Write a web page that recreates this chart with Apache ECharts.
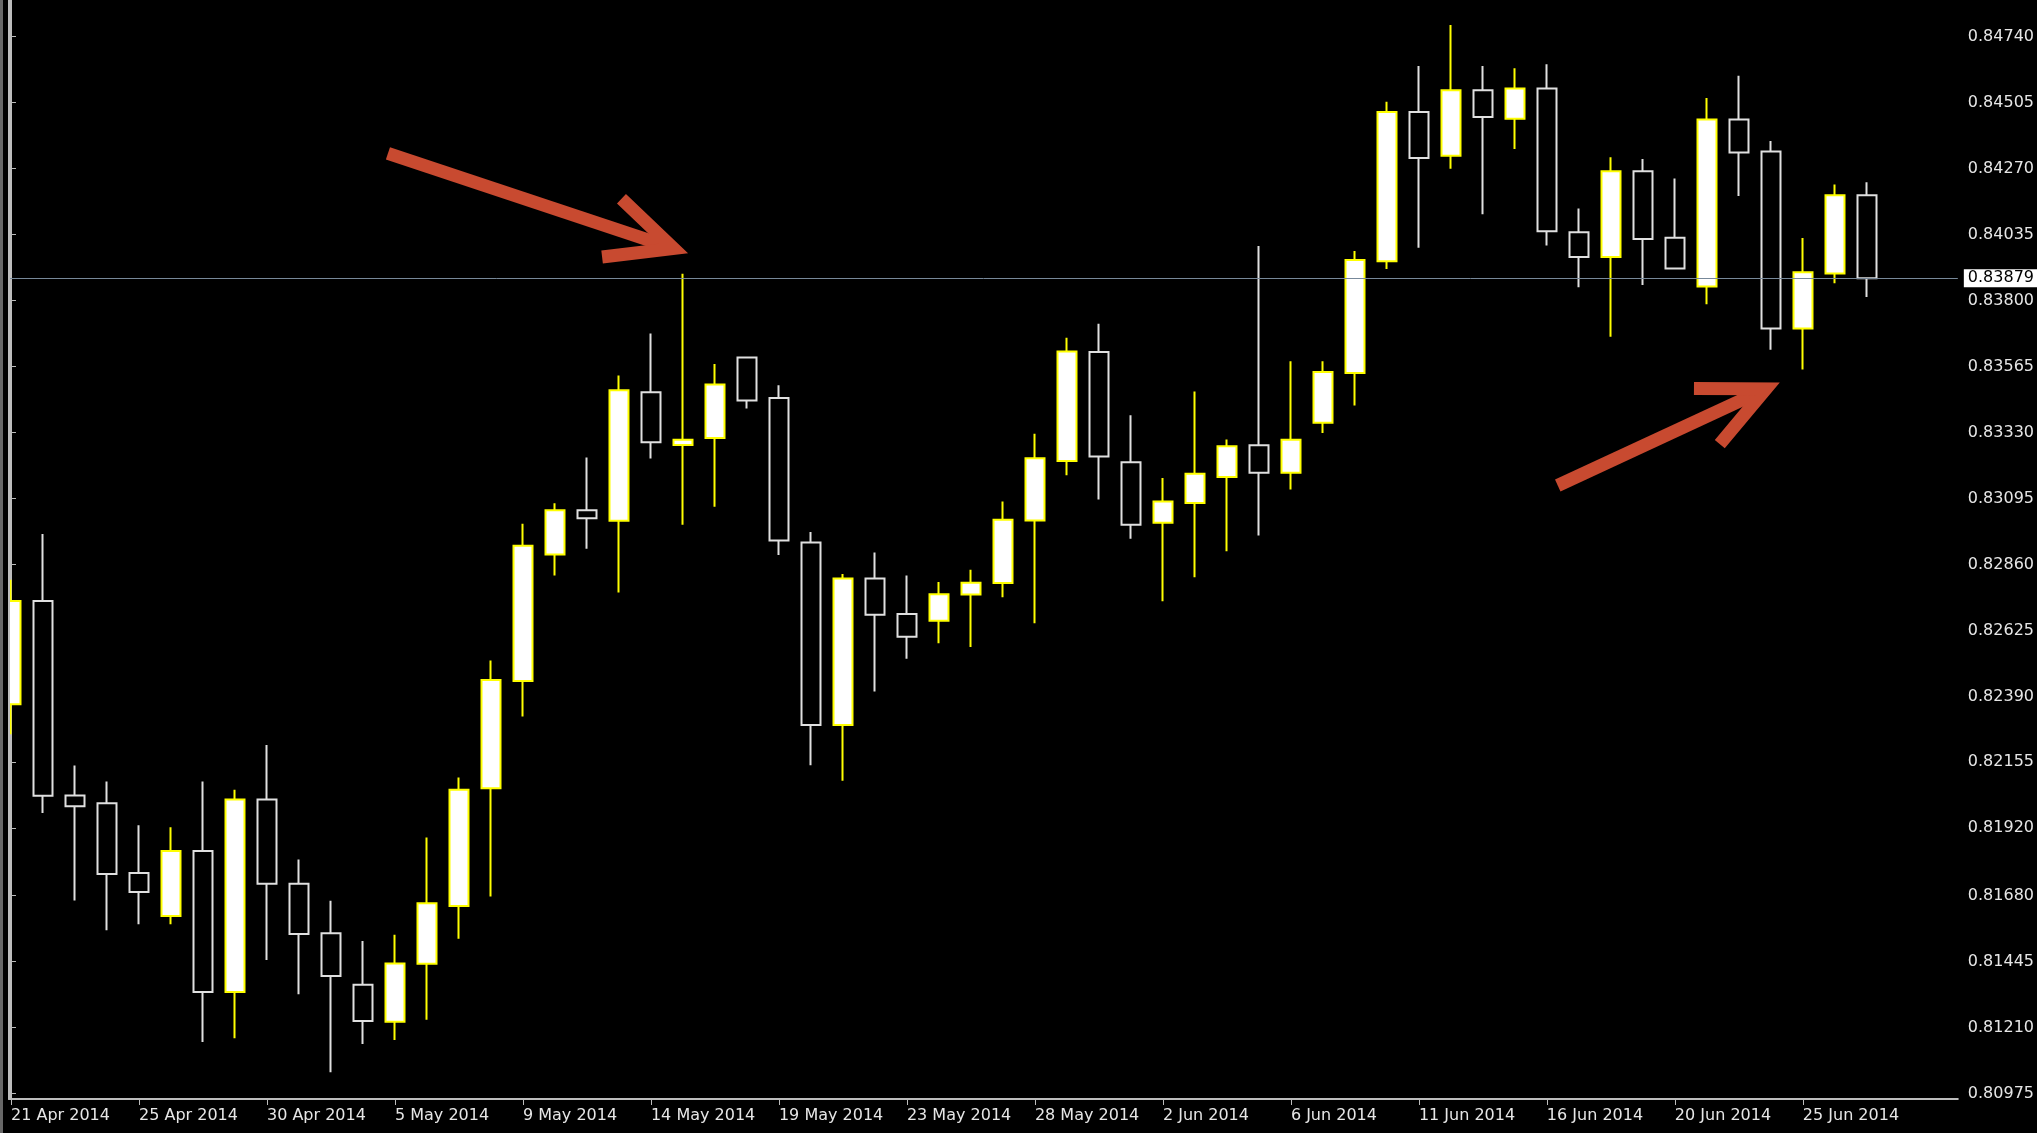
<!DOCTYPE html>
<html>
<head>
<meta charset="utf-8">
<title>Daily candles Apr - Jun 2014</title>
<script src="https://cdn.jsdelivr.net/npm/echarts@6/dist/echarts.min.js"></script>
<style>
  html, body { margin: 0; padding: 0; background: #000; }
  #chart { position: absolute; left: 0; top: 0; width: 2037px; height: 1133px; }
  #edge { position: absolute; left: 0; top: 0; width: 8px; height: 1133px; box-sizing: border-box;
          background: #000; border-left: 3px solid #686868; }
</style>
</head>
<body>
<div id="chart"></div>
<div id="edge"></div>
<script>
// one bar per trading day (incl. the short sunday bars)
const dates = [
  '21 Apr 2014', '22 Apr 2014', '23 Apr 2014', '24 Apr 2014', '25 Apr 2014', '27 Apr 2014', '28 Apr 2014',
  '29 Apr 2014', '30 Apr 2014', '1 May 2014', '2 May 2014', '4 May 2014', '5 May 2014', '6 May 2014',
  '7 May 2014', '8 May 2014', '9 May 2014', '11 May 2014', '12 May 2014', '13 May 2014', '14 May 2014',
  '15 May 2014', '16 May 2014', '18 May 2014', '19 May 2014', '20 May 2014', '21 May 2014', '22 May 2014',
  '23 May 2014', '25 May 2014', '26 May 2014', '27 May 2014', '28 May 2014', '29 May 2014', '30 May 2014',
  '1 Jun 2014', '2 Jun 2014', '3 Jun 2014', '4 Jun 2014', '5 Jun 2014', '6 Jun 2014', '8 Jun 2014',
  '9 Jun 2014', '10 Jun 2014', '11 Jun 2014', '12 Jun 2014', '13 Jun 2014', '15 Jun 2014', '16 Jun 2014',
  '17 Jun 2014', '18 Jun 2014', '19 Jun 2014', '20 Jun 2014', '22 Jun 2014', '23 Jun 2014', '24 Jun 2014',
  '25 Jun 2014', '26 Jun 2014', '27 Jun 2014'
];

const opens = [
  0.82362, 0.82730, 0.82037, 0.82009, 0.81761, 0.81608, 0.81839, 0.81337, 0.82023, 0.81723,
  0.81546, 0.81363, 0.81231, 0.81438, 0.81643, 0.82063, 0.82445, 0.82895, 0.83053, 0.83015,
  0.83473, 0.83285, 0.83310, 0.83597, 0.83453, 0.82938, 0.82288, 0.82810, 0.82683, 0.82659,
  0.82753, 0.82794, 0.83016, 0.83228, 0.83616, 0.83224, 0.83008, 0.83079, 0.83171, 0.83284,
  0.83186, 0.83364, 0.83542, 0.83940, 0.84471, 0.84315, 0.84549, 0.84447, 0.84555, 0.84043,
  0.83955, 0.84260, 0.84023, 0.83850, 0.84444, 0.84330, 0.83700, 0.83896, 0.84175
];
const closes = [
  0.82730, 0.82036, 0.81999, 0.81757, 0.81693, 0.81839, 0.81337, 0.82023, 0.81723, 0.81544,
  0.81394, 0.81234, 0.81439, 0.81653, 0.82057, 0.82448, 0.82926, 0.83053, 0.83024, 0.83480,
  0.83295, 0.83304, 0.83501, 0.83444, 0.82945, 0.82288, 0.82810, 0.82681, 0.82602, 0.82754,
  0.82795, 0.83019, 0.83238, 0.83618, 0.83244, 0.83001, 0.83084, 0.83183, 0.83281, 0.83186,
  0.83304, 0.83545, 0.83944, 0.84471, 0.84307, 0.84549, 0.84453, 0.84555, 0.84046, 0.83955,
  0.84260, 0.84019, 0.83914, 0.84444, 0.84327, 0.83700, 0.83900, 0.84175, 0.83879
];
const lows = [
  0.82255, 0.81975, 0.81663, 0.81557, 0.81578, 0.81578, 0.81159, 0.81172, 0.81451, 0.81329,
  0.81051, 0.81152, 0.81166, 0.81238, 0.81527, 0.81677, 0.82318, 0.82820, 0.82916, 0.82760,
  0.83237, 0.83001, 0.83065, 0.83415, 0.82893, 0.82145, 0.82089, 0.82407, 0.82524, 0.82579,
  0.82566, 0.82743, 0.82650, 0.83177, 0.83091, 0.82951, 0.82729, 0.82814, 0.82907, 0.82963,
  0.83127, 0.83328, 0.83426, 0.83912, 0.83988, 0.84269, 0.84107, 0.84339, 0.83996, 0.83847,
  0.83671, 0.83855, 0.83910, 0.83786, 0.84172, 0.83624, 0.83554, 0.83861, 0.83812
];
const highs = [
  0.82805, 0.82968, 0.82144, 0.82087, 0.81931, 0.81924, 0.82087, 0.82057, 0.82217, 0.81809,
  0.81662, 0.81519, 0.81541, 0.81887, 0.82101, 0.82518, 0.83005, 0.83078, 0.83241, 0.83533,
  0.83682, 0.83895, 0.83574, 0.83600, 0.83498, 0.82975, 0.82826, 0.82902, 0.82820, 0.82797,
  0.82841, 0.83084, 0.83325, 0.83667, 0.83717, 0.83391, 0.83168, 0.83476, 0.83305, 0.83994,
  0.83583, 0.83583, 0.83976, 0.84508, 0.84635, 0.84781, 0.84635, 0.84627, 0.84641, 0.84127,
  0.84310, 0.84304, 0.84234, 0.84521, 0.84600, 0.84368, 0.84022, 0.84213, 0.84221
];

const priceTicks = [
  0.84740, 0.84505, 0.84270, 0.84035, 0.83800, 0.83565, 0.83330, 0.83095, 0.82860,
  0.82625, 0.82390, 0.82155, 0.81920, 0.81680, 0.81445, 0.81210, 0.80975
];
const lastPrice = 0.83879;

// annotation arrows: [fromBar, fromPrice, toBar, toPrice]
const arrows = [
  [11.78, 0.84324, 21.16, 0.83968],
  [48.34, 0.83141, 55.28, 0.83508]
];

const dateTickIdx = dates.map((d, i) => i).filter(i => i % 4 === 0);

const FONT = 'DejaVu Sans';
const TEXT = '#e6e6e6';
const FRAME = '#bdbdbd';

const chart = echarts.init(document.getElementById('chart'));

const option = {
  backgroundColor: '#000000',
  animation: false,
  grid: { left: 9, right: 79, top: 0, bottom: 34 },
  xAxis: {
    type: 'value',
    min: -0.0625,
    max: 60.844,
    axisLine: { show: true, onZero: false, lineStyle: { color: FRAME, width: 2 } },
    axisTick: { show: true, length: 6, customValues: dateTickIdx, lineStyle: { color: FRAME, width: 1 } },
    axisLabel: {
      customValues: dateTickIdx,
      formatter: v => dates[v],
      align: 'left',
      margin: 9,
      color: TEXT,
      fontFamily: FONT,
      fontSize: 16
    },
    splitLine: { show: false }
  },
  yAxis: [
    {
      type: 'value',
      position: 'right',
      min: 0.80956,
      max: 0.84870,
      axisLine: { show: true, lineStyle: { color: FRAME, width: 2 } },
      axisTick: { show: true, length: 5, customValues: priceTicks, lineStyle: { color: FRAME } },
      axisLabel: {
        customValues: priceTicks,
        formatter: v => v.toFixed(5),
        margin: 10,
        color: TEXT,
        fontFamily: FONT,
        fontSize: 16
      },
      splitLine: { show: false }
    },
    {
      type: 'value',
      position: 'left',
      z: 10,
      min: 0.80956,
      max: 0.84870,
      axisLine: { show: true, lineStyle: { color: FRAME, width: 2 } },
      axisTick: { show: false },
      axisLabel: { show: false },
      splitLine: { show: false }
    }
  ],
  series: [
    {
      type: 'candlestick',
      yAxisIndex: 0,
      clip: true,
      encode: { x: 0, y: [1, 2, 3, 4] },
      data: opens.map((o, i) => [i, o, closes[i], lows[i], highs[i]]),
      barWidth: 19,
      itemStyle: {
        color: '#ffffff',
        color0: '#000000',
        borderColor: '#ffff00',
        borderColor0: '#e0e0e0',
        borderWidth: 2
      },
      markLine: {
        silent: true,
        symbol: 'none',
        precision: 5,
        lineStyle: { color: '#778899', width: 1, type: 'solid' },
        label: {
          position: 'end',
          distance: 6,
          formatter: () => lastPrice.toFixed(5),
          color: '#000000',
          backgroundColor: '#ffffff',
          padding: [1, 4, 1, 4],
          fontFamily: FONT,
          fontSize: 16
        },
        data: [{ yAxis: lastPrice }]
      }
    },
    {
      type: 'custom',
      yAxisIndex: 0,
      silent: true,
      z: 5,
      encode: { x: [0, 2], y: [1, 3] },
      data: arrows,
      renderItem: (params, api) => {
        const a = api.coord([api.value(0), api.value(1)]);
        const b = api.coord([api.value(2), api.value(3)]);
        const w = 13, barb = 72, spread = 0.44;
        const dx = b[0] - a[0], dy = b[1] - a[1];
        const d = Math.sqrt(dx * dx + dy * dy);
        const ux = dx / d, uy = dy / d;
        // pull the joint back so the mitred outer point sits on the tip
        const back = (w / 2) / Math.sin(spread);
        const t = [b[0] - ux * back, b[1] - uy * back];
        const ang = Math.atan2(-uy, -ux);
        const p1 = [t[0] + barb * Math.cos(ang + spread), t[1] + barb * Math.sin(ang + spread)];
        const p2 = [t[0] + barb * Math.cos(ang - spread), t[1] + barb * Math.sin(ang - spread)];
        const col = '#c84a30';
        return {
          type: 'group',
          children: [
            { type: 'line', shape: { x1: a[0], y1: a[1], x2: t[0], y2: t[1] }, style: { stroke: col, lineWidth: w } },
            { type: 'polyline', shape: { points: [p1, t, p2] }, style: { stroke: col, fill: null, lineWidth: w, lineJoin: 'miter', miterLimit: 10 } }
          ]
        };
      }
    }
  ]
};

chart.setOption(option);
</script>
</body>
</html>
